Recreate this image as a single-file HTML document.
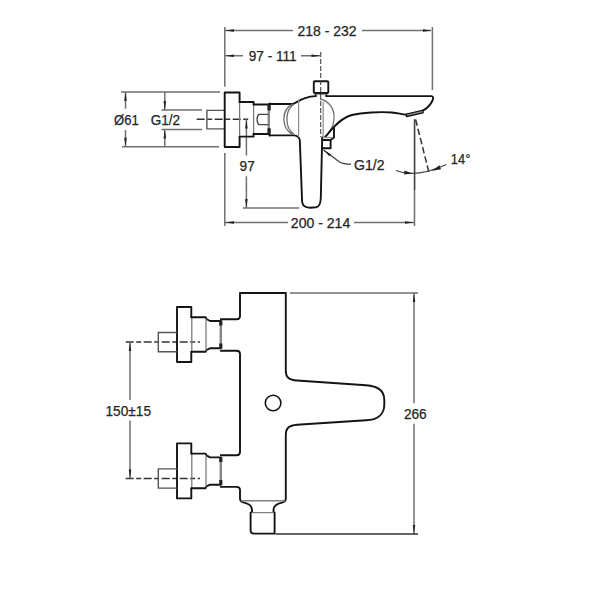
<!DOCTYPE html>
<html><head><meta charset="utf-8">
<style>
html,body{margin:0;padding:0;background:#fff;width:600px;height:600px;overflow:hidden}
svg{display:block}
text{font-family:"Liberation Sans",sans-serif;font-size:14px;fill:#262626;stroke:#262626;stroke-width:0.25}
.d{stroke:#707070;stroke-width:1.5;fill:none}
.k{stroke:#141414;stroke-width:1.9;fill:none;stroke-linejoin:round;stroke-linecap:round}
.g{stroke:#8f8f8f;stroke-width:1.25;fill:none}
.a{fill:#222;stroke:none}
.dash{stroke:#333;stroke-width:1.4;fill:none;stroke-dasharray:8 2.5 5 2.5;stroke-dashoffset:0}
</style></head><body>
<svg width="600" height="600" viewBox="0 0 600 600">
<!-- ============ TOP VIEW ============ -->
<!-- dimension 218-232 -->
<path class="d" d="M224.8 27V86.7 M224.8 153V226 M432.4 27V90"/>
<path class="d" d="M225 30.5H293 M362 30.5H431"/>
<path class="a" d="M225 30.5l9-1.25v2.5z M432 30.5l-9-1.25v2.5z"/>
<text x="297.5" y="35.7" textLength="59" lengthAdjust="spacingAndGlyphs">218 - 232</text>
<!-- 97-111 -->
<path class="d" d="M225 55.8H243 M301 55.8H320"/>
<path class="a" d="M225 55.8l9-1.25v2.5z M320.5 55.8l-9-1.25v2.5z"/>
<text x="248.7" y="61.3" textLength="48" lengthAdjust="spacingAndGlyphs">97 - 111</text>
<!-- Ø61 / G1/2 -->
<path class="d" d="M121 92H220 M122 146.7H219 M161.5 110H202 M161.5 129.4H202"/>
<path class="d" d="M125.5 92V108.7 M125.5 130V146.7 M164.8 92V110 M164.8 129.4V147"/>
<path class="a" d="M125.5 92l-1.25 9h2.5z M125.5 146.7l-1.25 -9h2.5z M164.8 110l-1.25 -9h2.5z M164.8 129.4l-1.25 9h2.5z"/>
<text x="114" y="125" textLength="24.7" lengthAdjust="spacingAndGlyphs">Ø61</text>
<text x="150.7" y="125" textLength="29.3" lengthAdjust="spacingAndGlyphs">G1/2</text>
<!-- pipe stub -->
<path class="g" style="stroke:#555;stroke-width:1.4" d="M224.7 110.4H206.9V128.9H224.7"/>
<path class="dash" d="M196.7 119.3H250.7"/>
<!-- 97 vertical -->
<path class="d" d="M246.4 119.5V155.5 M246.4 176.3V208"/>
<path class="a" d="M246.4 119.5l-1.25 9h2.5z M246.4 208l-1.25 -9h2.5z"/>
<text x="239.6" y="170.7" textLength="15.2" lengthAdjust="spacingAndGlyphs">97</text>
<path class="d" d="M243 208.1H299.2"/>
<!-- 200-214 -->
<path class="d" d="M225 222.5H288 M354 222.5H414 M414.5 120V226"/>
<path class="a" d="M225 222.5l9-1.25v2.5z M414 222.5l-9-1.25v2.5z"/>
<text x="290.8" y="227.5" textLength="59.5" lengthAdjust="spacingAndGlyphs">200 - 214</text>
<!-- faucet body top view -->
<path class="k" d="M239.6 102V92.5H224.7V147H239.6V136.6"/>
<path class="g" style="stroke:#777" d="M239.6 102V136.6"/>
<path class="k" d="M239.6 102H253.6V104.5 M239.6 136.6H253.6V134"/>
<path class="g" style="stroke:#777" d="M253.6 104.5V134"/>
<path class="k" d="M253.6 104.5H268.6 M253.6 134H268.6 M269.6 103.5V110 M269.6 129V135.6"/>
<path class="g" style="stroke:#888" d="M268.2 110V129 M269.4 110V129"/>
<path class="k" style="stroke:#444;stroke-width:1.3" d="M267.6 114.4H259 C256.5 116 256.5 123 259 124.7H267.6"/>
<path class="a" d="M267.4 104.5h3v5.7h-3z M267.4 128.3h3v5.7h-3z"/>
<path class="k" d="M269.6 104H293 C296.5 102.5 299.5 100.2 305 98.2 C309 96.8 312 96.2 315.7 96.1 M326.3 96.1H431.5 C433.5 96.4 433.5 98.5 432.5 100.5 C430.5 105 427 108.5 422.5 110.7 M269.6 135.4H293 C296 135 299.5 137 299.8 140 L302.1 201.5 C302.5 206 305 207.7 310 207.7 L316 207.3 C319 207 320.5 205 320.8 198 L322.2 137.5"/>
<!-- sphere arcs -->
<path class="g" style="stroke:#6e6e6e;stroke-width:1.3" d="M292.5 104.2 C281 110 281 128 292.5 134.6 M294 104.2 C284.5 110 284.5 128 294 134.2"/>
<path class="g" d="M298.6 99.5 V137 M323.2 102 V137.5"/>
<path class="g" style="stroke:#777;stroke-width:1.3" d="M320 99 C329 101 335 109 334 119 C333.5 127 329 133 324.5 137"/>
<!-- knob -->
<rect class="k" x="313.8" y="81.3" width="14.5" height="11.7" rx="1"/>
<path class="k" d="M315.7 93V96.1 M326.3 93V96.1"/>
<path class="g" d="M315.7 94.5H326.3"/>
<path class="dash" style="stroke:#444;stroke-width:1.1;stroke-dasharray:5 2" d="M320.7 52V137"/>
<!-- spout bottom -->
<path class="k" d="M422.5 110.7 L406.2 114.5 L406.7 116.3 L422.9 112.5Z"/>
<path class="g" d="M407 115.2 L422.5 111.6"/>
<path class="k" d="M406.2 114.6 C402 114.5 398 113 392 112.5 C380 111.5 362 112.5 352 115 C341 118 333 127 325.3 137"/>
<!-- small nut under body -->
<path class="k" d="M322.2 140H330.6V148.2H322.2 M330.6 140 L334 137.5V128"/>
<path class="g" d="M323 137.5H333"/>
<!-- G1/2 leader -->
<path class="d" style="stroke:#3a3a3a;stroke-width:1.2" d="M323.5 150 L339.5 162 C343 164 347 164.2 351 164.2"/>
<path class="a" d="M323.5 150 L330.9 154.2 L329.3 156.3Z"/>
<text x="354" y="170" textLength="30.5" lengthAdjust="spacingAndGlyphs">G1/2</text>
<!-- angle 14 -->
<path class="d" style="stroke:#444;stroke-width:1.3" d="M414.6 119V190"/>
<path class="dash" style="stroke-dasharray:6.5 3;stroke-dashoffset:-0.5;stroke-width:1.5" d="M415.5 119L428.8 172"/>
<path class="d" style="stroke:#444;stroke-width:1.3" d="M396 170.5 C407 175 422 175.5 446.5 164.5"/>
<path class="a" d="M412.5 173.4 L404.5 170.6 L404 174.6Z M431.5 170.9 L441 169.2 L439.5 165.2Z"/>
<text x="450.8" y="163.7" textLength="19.5" lengthAdjust="spacingAndGlyphs">14°</text>

<!-- ============ BOTTOM VIEW ============ -->
<!-- 266 dim -->
<path class="d" d="M290 293H418 M414 293V403.3 M414 423.8V534"/>
<path class="d" style="stroke:#333;stroke-width:1.3" d="M275.5 534H418"/>
<path class="a" d="M414 293l-1.25 9h2.5z M414 534l-1.25 -9h2.5z"/>
<text x="403.9" y="419" textLength="22.8" lengthAdjust="spacingAndGlyphs">266</text>
<!-- 150±15 dim -->
<path class="dash" d="M125.7 342H200 M125.7 478.5H200"/>
<path class="d" d="M130 342V400 M130 420.5V478.5"/>
<path class="a" d="M130 342l-1.25 9h2.5z M130 478.5l-1.25 -9h2.5z"/>
<text x="105.5" y="415.5" textLength="45.5" lengthAdjust="spacingAndGlyphs">150±15</text>
<!-- top inlet -->
<path class="k" d="M191.3 317.0V307.0H177V362.0H191.3V352.0"/>
<path class="g" style="stroke:#777" d="M191.8 317.0V352.0"/>
<path class="k" d="M191.3 317.2H205.6 L206.5 319.0 L210 321.0H220.8 M191.3 351.8H205.6 L206.5 350.0 L210 348.3H220.8"/>
<path class="g" style="stroke:#777" d="M206 318.5V350.5"/>
<path class="g" style="stroke:#888" d="M220.2 323.0V346.0 M221.4 323.0V346.0"/>
<path class="a" d="M219.2 320.5h3.2v5h-3.2z M219.2 343.5h3.2v5h-3.2z"/>
<path class="g" style="stroke:#555;stroke-width:1.4" d="M177 332.5H158.3V351.7H177"/>
<!-- bottom inlet -->
<path class="k" d="M191.3 453.4V443.4H177V498.4H191.3V488.4"/>
<path class="g" style="stroke:#777" d="M191.8 453.4V488.4"/>
<path class="k" d="M191.3 453.6H205.6 L206.5 455.4 L210 457.4H220.8 M191.3 488.2H205.6 L206.5 486.4 L210 484.7H220.8"/>
<path class="g" style="stroke:#777" d="M206 454.9V486.9"/>
<path class="g" style="stroke:#888" d="M220.2 459.4V482.4 M221.4 459.4V482.4"/>
<path class="a" d="M219.2 456.9h3.2v5h-3.2z M219.2 479.9h3.2v5h-3.2z"/>
<path class="g" style="stroke:#555;stroke-width:1.4" d="M177 468.9H158.3V488.1H177"/>
<!-- body outline -->
<path class="k" d="M220.8 319.2H237 Q240 319.2 240 316V293H285.8V371 C285.8 377.5 289 380 297 380.5 L366 385.3 C378 386 384.3 391 384.3 400 V404.5 C384.3 414 378 420 366 420.3 L297 424.8 C289 425.5 285.8 428 285.8 435 V498.5 C285.8 501 284.5 502 282 502.6 C277 503.6 273.5 506 273.5 510 V511.8 L274.6 512.6 V533.6 H254 Q250.6 533.6 250.6 530 V512.6 L252 511.8 V510 C252 506 249 503.6 244 502.6 C241.5 502 240 501 240 498.5 V490 Q240 486.9 236.5 486.9 H220.8 M220.8 455.3H236.5 Q240 455.3 240 452 V354 Q240 350.8 236.5 350.8 H220.8"/>
<path class="g" style="stroke:#808080;stroke-width:1.4" d="M241 500.7H285 M252 512.6H273.5"/>
<circle class="k" cx="273.1" cy="403" r="7.8" style="stroke-width:1.6"/>
</svg>
</body></html>
